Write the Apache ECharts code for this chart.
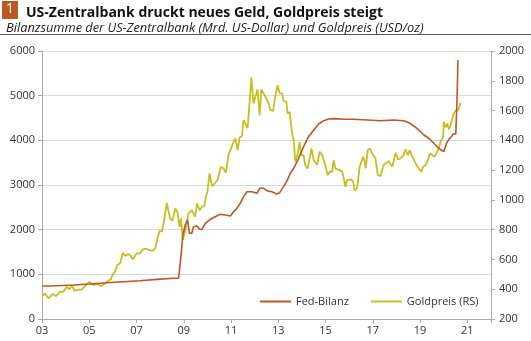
<!DOCTYPE html>
<html><head><meta charset="utf-8">
<script src="https://cdn.jsdelivr.net/npm/echarts@6/dist/echarts.min.js"></script>
<style>html,body{margin:0;padding:0;background:#fff}#c{width:531px;height:341px}</style>
</head><body><div id="c"></div>
<script>
// Tick labels
const xTickLabels = ['03','05','07','09','11','13','15','17','19','21'];
const leftTicks = [0,1000,2000,3000,4000,5000,6000];
const rightTicks = [200,400,600,800,1000,1200,1400,1600,1800,2000];
const seriesNames = ['Fed-Bilanz','Goldpreis (RS)'];

// Fed balance sheet (bn USD), decimal years
const fedYears = [2003.00,2003.34,2004.33,2005.03,2005.74,2006.44,2007.15,2007.86,2008.56,2008.78,2008.88,2008.96,2009.06,2009.16,2009.24,2009.34,2009.41,2009.56,2009.67,2009.77,2009.91,2010.12,2010.33,2010.54,2010.75,2010.97,2011.11,2011.25,2011.39,2011.53,2011.67,2011.89,2012.10,2012.21,2012.38,2012.55,2012.73,2012.92,2013.06,2013.22,2013.37,2013.51,2013.65,2013.86,2014.07,2014.28,2014.50,2014.71,2014.92,2015.13,2015.34,2015.77,2016.19,2016.76,2017.32,2017.89,2018.31,2018.52,2018.73,2018.94,2019.16,2019.37,2019.58,2019.79,2020.00,2020.12,2020.22,2020.32,2020.40,2020.51,2020.57,2020.60];
const fedValues = [739,739,761,784,813,835,858,888,911,911,1395,1881,2105,2217,1919,1919,2067,2082,2008,2008,2143,2232,2291,2344,2329,2306,2403,2478,2590,2739,2850,2850,2814,2926,2926,2866,2850,2799,2828,2962,3097,3262,3374,3598,3858,4082,4232,4366,4440,4478,4485,4471,4471,4456,4440,4456,4440,4395,4321,4232,4120,4046,3934,3822,3746,3934,4023,4082,4142,4142,5054,5799];

// Gold price (USD/oz), decimal years
const goldYears = [2003.00,2003.13,2003.27,2003.45,2003.59,2003.76,2003.90,2004.05,2004.16,2004.26,2004.37,2004.54,2004.68,2004.82,2005.00,2005.17,2005.34,2005.49,2005.67,2005.81,2005.91,2006.00,2006.09,2006.19,2006.31,2006.42,2006.52,2006.66,2006.76,2006.84,2007.01,2007.15,2007.27,2007.41,2007.55,2007.69,2007.79,2007.89,2007.97,2008.07,2008.17,2008.28,2008.42,2008.52,2008.64,2008.73,2008.82,2008.88,2008.96,2009.10,2009.20,2009.34,2009.48,2009.56,2009.67,2009.77,2009.86,2009.95,2010.00,2010.09,2010.19,2010.33,2010.43,2010.57,2010.68,2010.78,2010.89,2011.00,2011.08,2011.18,2011.28,2011.36,2011.46,2011.53,2011.60,2011.70,2011.78,2011.86,2011.95,2012.03,2012.12,2012.21,2012.28,2012.38,2012.49,2012.59,2012.66,2012.78,2012.87,2012.97,2013.06,2013.16,2013.22,2013.34,2013.39,2013.48,2013.58,2013.65,2013.72,2013.82,2013.90,2013.97,2014.07,2014.14,2014.24,2014.33,2014.40,2014.50,2014.58,2014.64,2014.75,2014.85,2014.92,2014.99,2015.09,2015.17,2015.28,2015.34,2015.42,2015.49,2015.60,2015.70,2015.74,2015.84,2015.91,2015.98,2016.08,2016.17,2016.22,2016.31,2016.36,2016.44,2016.52,2016.59,2016.64,2016.70,2016.78,2016.87,2016.97,2017.04,2017.11,2017.21,2017.29,2017.32,2017.46,2017.58,2017.67,2017.82,2017.96,2018.06,2018.17,2018.28,2018.38,2018.48,2018.56,2018.66,2018.73,2018.85,2018.94,2019.05,2019.13,2019.23,2019.33,2019.41,2019.51,2019.61,2019.69,2019.79,2019.89,2019.98,2020.00,2020.08,2020.15,2020.22,2020.29,2020.36,2020.43,2020.50,2020.60,2020.66,2020.71];
const goldValues = [350,372,339,368,354,383,383,417,399,428,390,395,399,421,450,428,435,421,440,457,466,502,517,562,574,645,623,636,623,601,641,641,668,672,663,658,674,742,793,786,864,980,876,860,943,920,819,876,730,819,909,931,887,976,931,954,958,1032,1054,1178,1093,1115,1133,1222,1211,1182,1301,1346,1379,1413,1334,1419,1428,1536,1540,1480,1648,1822,1648,1692,1741,1569,1741,1715,1681,1648,1603,1598,1692,1770,1715,1715,1665,1658,1580,1591,1446,1401,1256,1312,1390,1301,1301,1234,1211,1278,1346,1267,1278,1234,1323,1301,1289,1234,1166,1189,1189,1267,1211,1200,1200,1189,1166,1088,1133,1121,1138,1121,1066,1070,1111,1222,1211,1289,1267,1211,1334,1346,1312,1312,1278,1166,1155,1160,1234,1249,1262,1222,1316,1272,1278,1294,1339,1301,1334,1294,1289,1234,1211,1189,1222,1234,1267,1312,1301,1289,1285,1346,1401,1423,1524,1487,1513,1473,1502,1547,1584,1598,1603,1625,1651];

const BASE_YEAR = 2003;
const FED_COLOR = '#bd5723';
const GOLD_COLOR = '#c6bf22';
const FONT = 'Open Sans';

const fedData = fedYears.map((y,i)=>[y-BASE_YEAR, fedValues[i]]);
const goldData = goldYears.map((y,i)=>[y-BASE_YEAR, goldValues[i]]);

const chart = echarts.init(document.getElementById('c'), null, {renderer:'canvas'});
chart.setOption({
  animation:false,
  textStyle:{fontFamily:FONT},
  title:[
    {text:'US-Zentralbank druckt neues Geld, Goldpreis steigt', left:21, top:1,
     textStyle:{fontFamily:FONT, fontWeight:'bold', fontSize:14, color:'#111'}},
    {text:'Bilanzsumme der US-Zentralbank (Mrd. US-Dollar) und Goldpreis (USD/oz)', left:1, top:17,
     textStyle:{fontFamily:FONT, fontStyle:'italic', fontWeight:'normal', fontSize:12.8, color:'#222'}}
  ],
  graphic:[
    {type:'rect', shape:{x:2,y:1,width:16,height:18}, style:{fill:FED_COLOR}},
    {type:'text', left:6, top:2, style:{text:'1', fill:'#fff', font:'14px "Open Sans"'}},
    {type:'line', shape:{x1:0,y1:34.5,x2:531,y2:34.5}, style:{stroke:'#555', lineWidth:1}}
  ],
  legend:{
    data:seriesNames.map(n=>({name:n, icon:'rect'})),
    left:255, top:291, itemWidth:31, itemHeight:2, itemGap:22,
    textStyle:{fontFamily:FONT, fontSize:11, color:'#333'}
  },
  grid:{left:42, right:40, top:51, bottom:22, containLabel:false},
  xAxis:{
    type:'value', min:0, max:19, interval:2,
    axisLine:{show:true, lineStyle:{color:'#aaa'}},
    axisTick:{show:true, length:4, lineStyle:{color:'#aaa'}},
    splitLine:{show:false},
    axisLabel:{fontFamily:FONT, fontSize:11, color:'#333', margin:6,
      formatter:v=>{const i=Math.round(v/2); return (v%2===0 && i<xTickLabels.length)?xTickLabels[i]:'';}}
  },
  yAxis:[
    {type:'value', min:leftTicks[0], max:leftTicks[leftTicks.length-1], interval:1000, position:'left',
     axisLine:{show:true, lineStyle:{color:'#aaa'}},
     axisTick:{show:true, length:4, lineStyle:{color:'#aaa'}},
     splitLine:{show:true, lineStyle:{color:'#d9d9d9', width:1}},
     axisLabel:{fontFamily:FONT, fontSize:11, color:'#333', margin:7, formatter:v=>String(v)}},
    {type:'value', min:rightTicks[0], max:rightTicks[rightTicks.length-1], interval:200, position:'right',
     axisLine:{show:true, lineStyle:{color:'#aaa'}},
     axisTick:{show:true, length:4, lineStyle:{color:'#aaa'}},
     splitLine:{show:false},
     axisLabel:{fontFamily:FONT, fontSize:11, color:'#333', margin:8, formatter:v=>String(v)}}
  ],
  series:[
    {name:seriesNames[0], type:'line', data:fedData, yAxisIndex:0, showSymbol:false, symbol:'none',
     lineStyle:{color:FED_COLOR, width:1.6}, itemStyle:{color:FED_COLOR}, z:3},
    {name:seriesNames[1], type:'line', data:goldData, yAxisIndex:1, showSymbol:false, symbol:'none',
     lineStyle:{color:GOLD_COLOR, width:1.8}, itemStyle:{color:GOLD_COLOR}, z:2}
  ]
});
</script></body></html>
